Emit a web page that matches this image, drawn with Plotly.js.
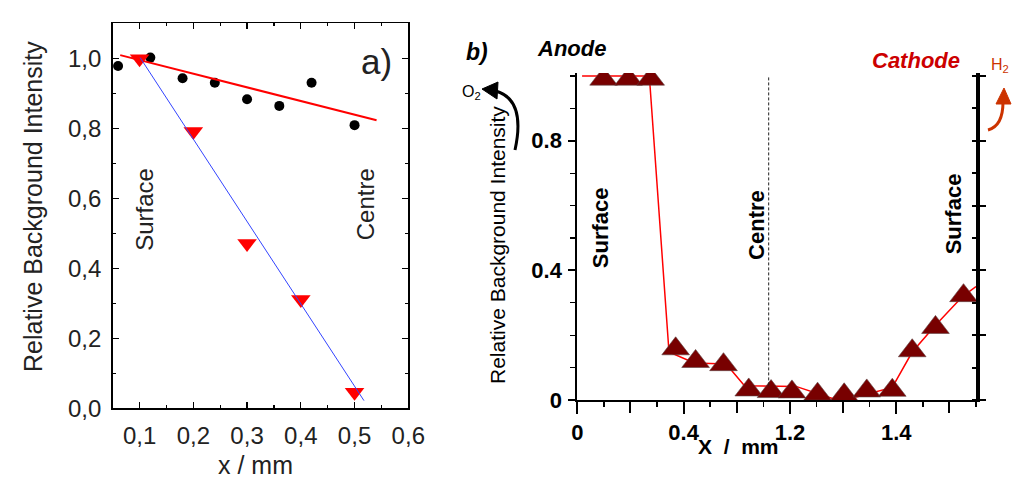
<!DOCTYPE html>
<html>
<head>
<meta charset="utf-8">
<script src="https://cdn.plot.ly/plotly-3.0.1.min.js"></script>
<style>
  html, body { margin: 0; padding: 0; background: #fff; }
  #chart { width: 1024px; height: 488px; }
</style>
</head>
<body>
<div id="chart"></div>
<script>
// panel a) - circles (red fit) and triangles (blue fit)
var aCircleX = [0.06, 0.12, 0.18, 0.24, 0.30, 0.36, 0.42, 0.50]
var aCircleY = [0.978, 1.002, 0.943, 0.930, 0.883, 0.864, 0.930, 0.809]
var aTriX = [0.1, 0.2, 0.3, 0.4, 0.5]
var aTriY = [0.999, 0.791, 0.471, 0.311, 0.046]
var aRedFitX = [0.064, 0.541]
var aRedFitY = [1.009, 0.823]
var aBlueFitX = [0.101, 0.5175]
var aBlueFitY = [1.002, 0.022]

// panel b) - profile across the membrane
var bTriX = [0.099, 0.193, 0.276, 0.37, 0.445, 0.55, 0.645, 0.729, 0.8075, 0.904, 1.004, 1.089, 1.185, 1.26, 1.3475, 1.453]
var bTriY = [0.99, 0.99, 0.99, 0.158, 0.119, 0.109, 0.031, 0.026, 0.025, 0.018, 0.016, 0.028, 0.03, 0.152, 0.224, 0.322]
var bLineX = [0.018, 0.271, 0.345, 0.44, 0.56, 0.629, 0.8225, 0.96, 1.05, 1.185, 1.26, 1.3475, 1.45, 1.5]
var bLineY = [1.0, 1.0, 0.148, 0.114, 0.111, 0.044, 0.042, 0.005, 0.009, 0.039, 0.148, 0.231, 0.32, 0.35]
var bTickVals = [0, 0.4, 0.8, 1.2]
var bTickText = ["0", "0.4", "1.2", "1.4"]
var bYTickVals = [0, 0.4, 0.8]
var bYTickText = ["0", "0.4", "0.8"]
var centreX = 0.72

var FONT = "Liberation Sans, Arial, sans-serif"

// pixel -> paper helpers
function px(x){ return x / 1024 }
function py(y){ return 1 - y / 488 }
function pt(x, y){ return px(x) + "," + py(y) }

var traces = [
	{x: aCircleX, y: aCircleY, xaxis: "x", yaxis: "y", mode: "markers", type: "scatter",
		marker: {symbol: "circle", size: 10, color: "#000"}},
	{x: aTriX, y: aTriY, xaxis: "x", yaxis: "y", mode: "markers", type: "scatter",
		marker: {symbol: "triangle-down", size: 17, color: "#ff0000"}},
	{x: aRedFitX, y: aRedFitY, xaxis: "x", yaxis: "y", mode: "lines", type: "scatter",
		line: {color: "#ff0000", width: 2}},
	{x: aBlueFitX, y: aBlueFitY, xaxis: "x", yaxis: "y", mode: "lines", type: "scatter",
		line: {color: "#3344ff", width: 1}},
	{x: bLineX, y: bLineY, xaxis: "x2", yaxis: "y2", mode: "lines", type: "scatter",
		line: {color: "#ff0000", width: 1.5}},
	{x: bTriX, y: bTriY, xaxis: "x2", yaxis: "y2", mode: "markers", type: "scatter",
		marker: {symbol: "triangle-up", size: 24, color: "#780000", line: {color: "#5a4040", width: 0.6}}},
	// keep the extra tick axes alive
	{x: [null], y: [null], xaxis: "x2", yaxis: "y3", mode: "markers", type: "scatter", hoverinfo: "skip"},
	{x: [null], y: [null], xaxis: "x3", yaxis: "y2", mode: "markers", type: "scatter", hoverinfo: "skip"}
]

var axA = {
	showline: true, linecolor: "#000", linewidth: 1.5, mirror: "ticks",
	ticks: "inside", ticklen: 6, tickwidth: 1.2, tickcolor: "#000",
	showgrid: false, zeroline: false, tickformat: ".1f",
	tickfont: {family: FONT, size: 24, color: "#222"}
}

function note(text, x, y, size, opts){
	var a = {text: text, xref: "paper", yref: "paper", x: px(x), y: py(y),
		xanchor: "center", yanchor: "middle", showarrow: false,
		font: {family: FONT, size: size, color: "#000"}}
	return Object.assign(a, opts || {})
}

function dnote(text, xref, yref, x, y, size, color, bold){
	return {text: bold ? "<b>" + text + "</b>" : text, xref: xref, yref: yref, x: x, y: y,
		textangle: -90, xanchor: "center", yanchor: "middle", showarrow: false,
		font: {family: FONT, size: size, color: color}}
}

var layout = {
	width: 1024, height: 488,
	margin: {l: 0, r: 0, t: 0, b: 0},
	paper_bgcolor: "#fff", plot_bgcolor: "rgba(0,0,0,0)",
	showlegend: false,
	separators: ", ",
	xaxis: Object.assign({}, axA, {
		domain: [px(112.7), px(408.3)], anchor: "y", range: [0.05, 0.6],
		tick0: 0, dtick: 0.1, ticklabelstandoff: 5,
		minor: {ticks: "inside", dtick: 0.05, ticklen: 3, tickcolor: "#000"}
	}),
	yaxis: Object.assign({}, axA, {
		domain: [py(408.3), py(23.3)], anchor: "x", range: [0, 1.1],
		tick0: 0, dtick: 0.2, ticklabelstandoff: 5,
		minor: {ticks: "inside", dtick: 0.1, ticklen: 3, tickcolor: "#000"}
	}),
	xaxis2: {
		domain: [px(577.3), px(976)], anchor: "y2", range: [0, 1.5],
		showline: true, linecolor: "#000", linewidth: 2,
		tickmode: "array", tickvals: bTickVals, ticktext: bTickText,
		ticks: "outside", ticklen: 12, tickwidth: 2, tickcolor: "#000",
		minor: {tickmode: "linear", tick0: 0, dtick: 0.1, ticks: "outside", ticklen: 5, tickwidth: 1.5, tickcolor: "#000"},
		showgrid: false, zeroline: false, ticklabelstandoff: 0,
		tickfont: {family: FONT, size: 22, color: "#000", weight: "bold"}
	},
	xaxis3: {
		overlaying: "x2", anchor: "y2", side: "bottom", range: [0, 1.5],
		showline: false, tick0: 0, dtick: 0.2,
		ticks: "outside", ticklen: 12, tickwidth: 2, tickcolor: "#000",
		showticklabels: false, showgrid: false, zeroline: false
	},
	yaxis2: {
		domain: [py(400), py(73)], anchor: "x2", range: [0, 1.009],
		showline: true, linecolor: "#000", linewidth: 2,
		tickmode: "array", tickvals: bYTickVals, ticktext: bYTickText,
		ticks: "outside", ticklen: 7, tickwidth: 2, tickcolor: "#000",
		minor: {tickmode: "linear", tick0: 0, dtick: 0.1, ticks: "outside", ticklen: 5, tickwidth: 1.2, tickcolor: "#000"},
		showgrid: false, zeroline: false, ticklabelstandoff: 2,
		tickfont: {family: FONT, size: 22, color: "#000", weight: "bold"}
	},
	yaxis3: {
		overlaying: "y2", side: "right", anchor: "x2", range: [0, 1.009],
		showline: true, linecolor: "#000", linewidth: 4,
		ticks: "outside", tick0: 0, dtick: 0.2, ticklen: 6, tickwidth: 2, tickcolor: "#000",
		minor: {ticks: "inside", dtick: 0.1, ticklen: 4, tickcolor: "#000"},
		showticklabels: false, showgrid: false, zeroline: false
	},
	shapes: [
		{type: "line", xref: "x2", yref: "y2", x0: centreX, x1: centreX, y0: 0.045, y1: 1.0,
			line: {color: "#222", width: 1, dash: "3px,2px"}},
		// O2 arrow
		{type: "path", xref: "paper", yref: "paper",
			path: "M" + pt(515, 150) + " Q" + pt(526, 100) + " " + pt(496, 91),
			line: {color: "#000", width: 3}},
		{type: "path", xref: "paper", yref: "paper",
			path: "M" + pt(482, 89) + " L" + pt(498, 82) + " L" + pt(497, 99) + " Z",
			fillcolor: "#000", line: {color: "#000", width: 1}},
		// H2 arrow
		{type: "path", xref: "paper", yref: "paper",
			path: "M" + pt(988, 130) + " Q" + pt(1003, 126) + " " + pt(1003, 102),
			line: {color: "#cc3300", width: 3}},
		{type: "path", xref: "paper", yref: "paper",
			path: "M" + pt(996, 104) + " L" + pt(1004, 88) + " L" + pt(1011, 104) + " Z",
			fillcolor: "#cc3300", line: {color: "#cc3300", width: 1}}
	],
	annotations: [
		// panel a
		note("Relative Background Intensity", 33, 207, 25, {textangle: -90, font: {family: FONT, size: 25, color: "#222"}}),
		note("x / mm", 255, 465, 25, {font: {family: FONT, size: 25, color: "#222"}}),
		dnote("Surface", "x", "y", 0.11, 0.57, 24, "#222", false),
		dnote("Centre", "x", "y", 0.522, 0.584, 24, "#222", false),
		note("a)", 376, 62, 35, {font: {family: FONT, size: 35, color: "#222"}}),
		// panel b
		note("<b><i>b)</i></b>", 477, 52, 23),
		note("<b><i>Anode</i></b>", 571, 48, 22),
		note("<b><i>Cathode</i></b>", 916, 60, 22, {font: {family: FONT, size: 22, color: "#cc0000"}}),
		note("O<sub>2</sub>", 471, 92, 16),
		note("H<sub>2</sub>", 1000, 66, 16, {font: {family: FONT, size: 16, color: "#cc3300"}}),
		note("Relative Background Intensity", 497, 245, 21, {textangle: -90}),
		note("<b>X  /  mm</b>", 738, 446, 21),
		dnote("Surface", "x2", "y2", 0.085, 0.533, 22, "#000", true),
		dnote("Centre", "x2", "y2", 0.672, 0.54, 22, "#000", true),
		dnote("Surface", "x2", "y2", 1.416, 0.575, 22, "#000", true)
	]
}

Plotly.newPlot("chart", traces, layout, {staticPlot: true, displayModeBar: false})
</script>
</body>
</html>
